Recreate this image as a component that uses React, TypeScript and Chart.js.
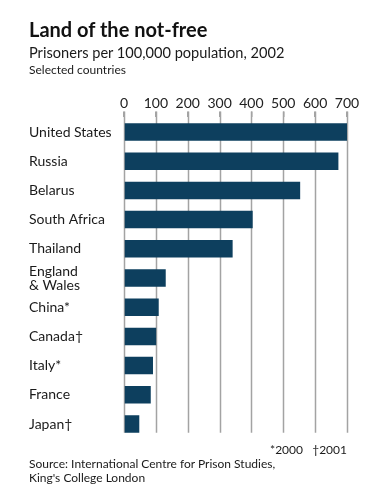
import React, { useEffect, useRef } from "react";
import { Chart, registerables } from "chart.js";

Chart.register(...registerables);

const categories: (string | string[])[] = [
  "United States",
  "Russia",
  "Belarus",
  "South Africa",
  "Thailand",
  ["England", "& Wales"],
  "China*",
  "Canada†",
  "Italy*",
  "France",
  "Japan†",
];
const prisoners = [700, 673, 553, 404, 341, 131, 109, 101, 91, 84, 48];
const xTicks = [0, 100, 200, 300, 400, 500, 600, 700];

const FONT = "Lato, 'Open Sans', sans-serif";
const BAR = "#0d3f5e";
const GRID = "#a3a3a3";

const gridPlugin = {
  id: "gridToBars",
  beforeDatasetsDraw(chart: any) {
    const { ctx, chartArea } = chart;
    const xs = chart.scales.x;
    const meta = chart.getDatasetMeta(0);
    const last = meta.data[meta.data.length - 1];
    const p = last.getProps(["y", "height"], true);
    const bottom = p.y + p.height / 2;
    ctx.save();
    ctx.strokeStyle = GRID;
    ctx.lineWidth = 1.5;
    xs.ticks.forEach((t: any) => {
      const x = Math.round(xs.getPixelForValue(t.value)) + 0.5;
      ctx.beginPath();
      ctx.moveTo(x, chartArea.top - 6);
      ctx.lineTo(x, bottom);
      ctx.stroke();
    });
    ctx.restore();
  },
};

export default function App() {
  const ref = useRef<HTMLCanvasElement>(null);
  useEffect(() => {
    document.body.style.margin = "0";
    const chart = new Chart(ref.current!, {
      type: "bar",
      data: {
        labels: categories,
        datasets: [
          {
            data: prisoners,
            backgroundColor: BAR,
            categoryPercentage: 1,
            barPercentage: 0.6,
          },
        ],
      },
      options: {
        indexAxis: "y",
        animation: false,
        responsive: false,
        layout: { padding: { left: 29, right: 29, top: 95, bottom: 61.4 } },
        plugins: { legend: { display: false }, tooltip: { enabled: false } },
        scales: {
          x: {
            position: "top",
            min: 0,
            max: 700,
            afterBuildTicks: (s: any) => {
              s.ticks = xTicks.map((v) => ({ value: v }));
            },
            afterFit: (s: any) => {
              s.height = 22.4;
            },
            grid: {
              display: true,
              drawOnChartArea: false,
              drawTicks: true,
              tickLength: 6,
              color: GRID,
              lineWidth: 1.5,
            },
            border: { display: false },
            ticks: {
              padding: 0,
              autoSkip: false,
              maxRotation: 0,
              color: "#222",
              font: { family: FONT, size: 14 },
            },
          },
          y: {
            afterFit: (s: any) => {
              s.width = 95;
            },
            grid: { display: false },
            border: { display: false },
            ticks: {
              crossAlign: "far",
              autoSkip: false,
              color: "#1a1a1a",
              font: { family: FONT, size: 14, lineHeight: 1.0 },
            },
          },
        },
      },
      plugins: [gridPlugin],
    });
    return () => chart.destroy();
  }, []);

  const txt = (top: number, size: number, extra: React.CSSProperties = {}) => ({
    position: "absolute" as const,
    top,
    left: 29,
    fontFamily: FONT,
    fontSize: size,
    lineHeight: `${size}px`,
    color: "#1a1a1a",
    whiteSpace: "nowrap" as const,
    ...extra,
  });

  return (
    <div style={{ position: "fixed", left: 0, top: 0, width: 376, height: 500, background: "#fff" }}>
      <canvas ref={ref} width={376} height={500} style={{ position: "absolute", left: 0, top: 0 }} />
      <div style={txt(19, 20, { fontWeight: 700, color: "#111" })}>Land of the not-free</div>
      <div style={txt(46, 14.6)}>Prisoners per 100,000 population, 2002</div>
      <div style={txt(64, 12)}>Selected countries</div>
      <div style={txt(444, 12, { left: "auto", right: 29 })}>
        *2000&nbsp;&nbsp;&nbsp;†2001
      </div>
      <div style={txt(458, 12)}>Source: International Centre for Prison Studies,</div>
      <div style={txt(472, 12)}>King's College London</div>
    </div>
  );
}
